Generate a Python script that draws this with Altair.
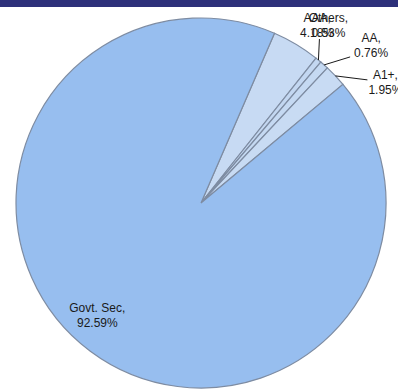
import math
import altair as alt
import pandas as pd

# ---- data ----
categories = ["AAA", "Others", "AA", "A1+", "Govt. Sec"]
shares = [4.18, 0.53, 0.76, 1.95, 92.59]
label_texts = ["AAA,\n4.18%", "Others,\n0.53%", "AA,\n0.76%", "A1+,\n1.95%", "Govt. Sec,\n92.59%"]

# ---- layout / style ----
W, H = 398, 391
CX, CY, R = 201, 203, 185
START_DEG = 23.4
fills = ["#C7DAF3", "#C3D7F1", "#C5D9F2", "#C8DBF3", "#97BEEF"]
# first-line centre offset from the slice's outer-edge midpoint
label_offsets = {"AAA": (21, -26), "Others": (10, -42), "AA": (47, -27),
                 "A1+": (50, -1), "Govt. Sec": (7, -43)}
# leader line end offset from the slice's outer-edge midpoint (None = no leader)
leader_ends = {"AAA": None, "Others": (1, -21), "AA": (26, -8),
               "A1+": (32, 4), "Govt. Sec": None}

total = sum(shares)
rows, lab_rows, lead_rows = [], [], []
cum = 0.0
for i, (c, v, t) in enumerate(zip(categories, shares, label_texts)):
    mid = START_DEG + (cum + v / 2) / total * 360
    cum += v
    a = math.radians(mid)
    ex, ey = CX + R * math.sin(a), CY - R * math.cos(a)
    rows.append({"cat": c, "value": v, "order": i})
    ox, oy = label_offsets[c]
    lab_rows.append({"cat": c, "text": t, "x": ex + ox, "y": ey + oy})
    if leader_ends[c] is not None:
        lx, ly = leader_ends[c]
        lead_rows.append({"cat": c, "x": ex, "y": ey, "x2": ex + lx, "y2": ey + ly})

df = pd.DataFrame(rows)
labels = pd.DataFrame(lab_rows)
leaders = pd.DataFrame(lead_rows)

s0 = math.radians(START_DEG)
pie = alt.Chart(df).mark_arc(radius=R, stroke="#7E8CA2", strokeWidth=1.2).encode(
    theta=alt.Theta("value:Q", stack=True, scale=alt.Scale(range=[s0, s0 + 2 * math.pi])),
    order=alt.Order("order:Q"),
    color=alt.Color("cat:N", scale=alt.Scale(domain=categories, range=fills), legend=None),
    x=alt.value(CX),
    y=alt.value(CY),
)

lead = alt.Chart(leaders).mark_rule(color="#1a1a1a", strokeWidth=1).encode(
    x=alt.X("x:Q", scale=None, axis=None),
    y=alt.Y("y:Q", scale=None, axis=None),
    x2="x2:Q",
    y2="y2:Q",
)

text = alt.Chart(labels).mark_text(
    font="Liberation Sans", fontSize=12, color="#1a1a1a", align="center",
    baseline="middle", lineBreak="\n", lineHeight=15,
).encode(
    x=alt.X("x:Q", scale=None, axis=None),
    y=alt.Y("y:Q", scale=None, axis=None),
    text="text:N",
)

header = alt.Chart(pd.DataFrame({"k": [0]})).mark_rect(color="#2D307A").encode(
    x=alt.value(0), x2=alt.value(W), y=alt.value(0), y2=alt.value(7)
)

chart = alt.layer(pie, lead, text, header).properties(
    width=W, height=H, padding=0, autosize=alt.AutoSizeParams(type="none"),
    background="white",
).configure_view(stroke=None)

chart.save("out.html", embed_options={"renderer": "svg", "actions": False})
